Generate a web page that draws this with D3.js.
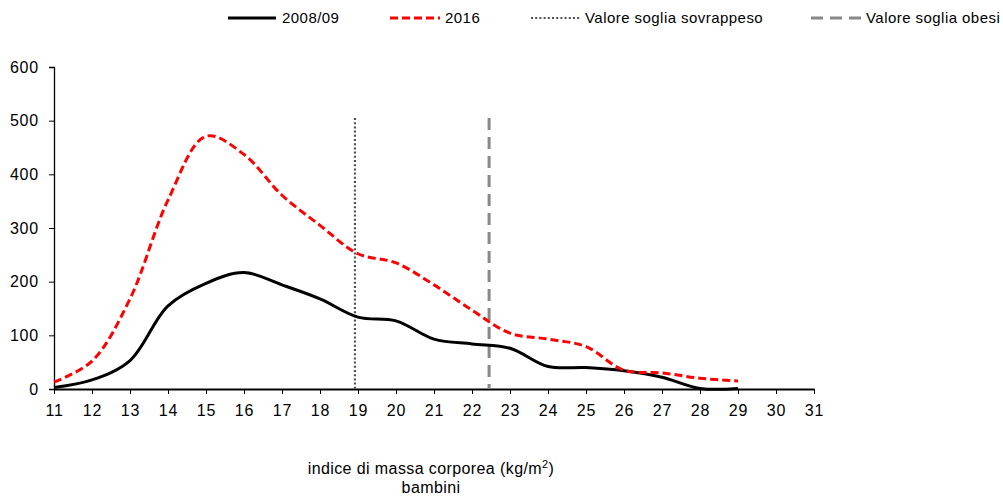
<!DOCTYPE html>
<html>
<head>
<meta charset="utf-8">
<script src="https://cdn.jsdelivr.net/npm/d3@7"></script>
<style>
  body { margin: 0; background: #fff; }
  text { font-family: "Liberation Sans", Arial, sans-serif; fill: #000; }
</style>
</head>
<body>
<div id="chart"></div>
<script>
// data
const bmi = [11, 12, 13, 14, 15, 16, 17, 18, 19, 20, 21, 22, 23, 24, 25, 26, 27, 28, 29];
const y2008 = [3, 17, 53, 155, 197, 217, 194, 168, 134, 127, 93, 84, 76, 42, 40, 34, 22, 1, 1];
const y2016 = [13, 52, 168, 352, 471, 437, 361, 305, 252, 235, 194, 147, 104, 93, 79, 35, 30, 20, 15];
const thresholds = [
  {name: "Valore soglia sovrappeso", x: 18.92, top: 505},
  {name: "Valore soglia obesi", x: 22.45, top: 505}
];
const yTicks = [0, 100, 200, 300, 400, 500, 600];
const xTicks = d3.range(11, 32);

const W = 1003, H = 497;
const m = {left: 54, top: 67, right: 189, bottom: 108};

const svg = d3.select("#chart").append("svg")
    .attr("width", W)
    .attr("height", H);

const x = d3.scaleLinear().domain([11, 31]).range([m.left, W - m.right]);
const y = d3.scaleLinear().domain([0, 600]).range([H - m.bottom, m.top]);

// y axis
const yAxis = svg.append("g")
    .attr("transform", `translate(${m.left},0)`)
    .call(d3.axisLeft(y).tickValues(yTicks).tickSize(5).tickPadding(10));
yAxis.select(".domain").attr("stroke", "#000").attr("stroke-width", 1.3);
yAxis.selectAll(".tick line").attr("stroke", "#000");
yAxis.selectAll("text")
    .style("font-size", "16px")
    .style("letter-spacing", "0.8px")
    .style("font-family", "Liberation Sans, Arial, sans-serif");

// x axis
const xAxis = svg.append("g")
    .attr("transform", `translate(0,${y(0)})`)
    .call(d3.axisBottom(x).tickValues(xTicks).tickSize(5).tickPadding(11).tickSizeOuter(0));
xAxis.select(".domain").attr("stroke", "#000").attr("stroke-width", 2.2);
xAxis.selectAll(".tick line").attr("stroke", "#000");
xAxis.selectAll("text")
    .style("font-size", "16px")
    .style("letter-spacing", "0.8px")
    .style("font-family", "Liberation Sans, Arial, sans-serif");

// threshold lines
const thStyle = [
  {stroke: "#505050", width: 2.2, dash: "2,2.2"},
  {stroke: "#888", width: 3, dash: "12,7"}
];
svg.selectAll(".thresh")
  .data(thresholds)
  .enter()
  .append("line")
    .attr("class", "thresh")
    .attr("x1", d => x(d.x)).attr("x2", d => x(d.x))
    .attr("y1", d => y(d.top)).attr("y2", y(0))
    .attr("stroke", (d, i) => thStyle[i].stroke)
    .attr("stroke-width", (d, i) => thStyle[i].width)
    .attr("stroke-dasharray", (d, i) => thStyle[i].dash);

// series lines
const line = d3.line()
    .x((d, i) => x(bmi[i]))
    .y(d => y(d))
    .curve(d3.curveCatmullRom.alpha(0.5));

svg.append("path")
    .attr("d", line(y2008))
    .attr("fill", "none")
    .attr("stroke", "#000")
    .attr("stroke-width", 3);

svg.append("path")
    .attr("d", line(y2016))
    .attr("fill", "none")
    .attr("stroke", "#ff0000")
    .attr("stroke-width", 3)
    .attr("stroke-dasharray", "8,4");

// legend
const legend = [
  {label: "2008/09", x1: 228, x2: 276, tx: 282, stroke: "#000", width: 3, dash: null},
  {label: "2016", x1: 390, x2: 440, tx: 445, stroke: "#ff0000", width: 3, dash: "8,4"},
  {label: "Valore soglia sovrappeso", x1: 531, x2: 581, tx: 585, stroke: "#505050", width: 2, dash: "2,2.2"},
  {label: "Valore soglia obesi", x1: 811, x2: 861, tx: 866, stroke: "#888", width: 3, dash: "12,7"}
];
const lg = svg.append("g").attr("class", "legend");
lg.selectAll("line")
  .data(legend)
  .enter()
  .append("line")
    .attr("x1", d => d.x1).attr("x2", d => d.x2)
    .attr("y1", 18).attr("y2", 18)
    .attr("stroke", d => d.stroke)
    .attr("stroke-width", d => d.width)
    .attr("stroke-dasharray", d => d.dash);
lg.selectAll("text")
  .data(legend)
  .enter()
  .append("text")
    .attr("x", d => d.tx)
    .attr("y", 23)
    .style("font-size", "15px")
    .style("letter-spacing", "0.45px")
    .text(d => d.label);

// axis title
const title = svg.append("text")
    .attr("x", 431)
    .attr("y", 474)
    .attr("text-anchor", "middle")
    .style("font-size", "16px")
    .style("letter-spacing", "0.4px");
title.append("tspan").text("indice di massa corporea (kg/m");
title.append("tspan").attr("dy", -6).style("font-size", "11px").text("2");
title.append("tspan").attr("dy", 6).text(")");

svg.append("text")
    .attr("x", 431)
    .attr("y", 493)
    .attr("text-anchor", "middle")
    .style("font-size", "16px")
    .style("letter-spacing", "0.4px")
    .text("bambini");
</script>
</body>
</html>
